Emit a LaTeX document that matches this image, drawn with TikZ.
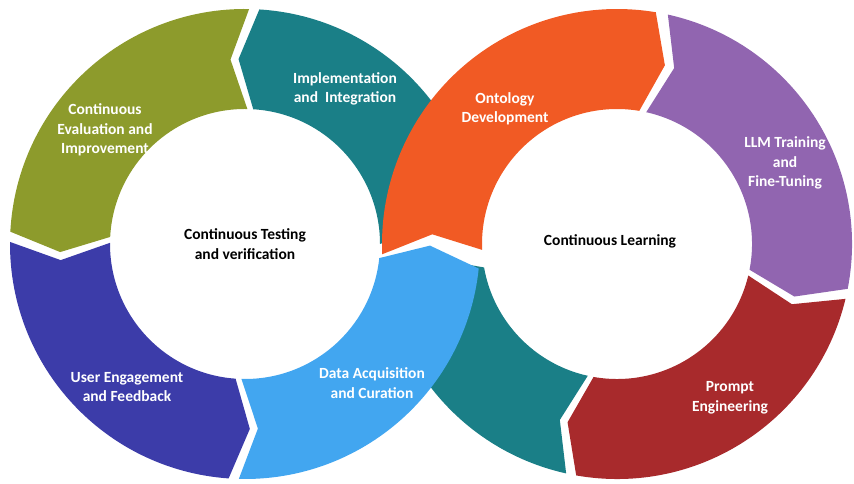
\documentclass[tikz,border=0pt]{standalone}
\usepackage{fontspec}
\setmainfont{Carlito}
\usetikzlibrary{calc}

\definecolor{olivec}{HTML}{8D9B2C}
\definecolor{tealc}{HTML}{1A7F87}
\definecolor{navyc}{HTML}{3C3CA9}
\definecolor{skyc}{HTML}{42A6F0}
\definecolor{orangec}{HTML}{F15A24}
\definecolor{purplec}{HTML}{9165B0}
\definecolor{redc}{HTML}{A82A2C}

% one arrow piece of a ring: centre, from angle, to angle, tip shift, colour
\newcommand{\ringpart}[5]{%
  \fill[#5] ($(#1)+(#2:235pt)$) arc[start angle=#2, end angle=#3, radius=235pt]
    -- ($(#1)+(#3+#4:185pt)$) -- ($(#1)+(#3:135pt)$)
    arc[start angle=#3, end angle=#2, radius=135pt]
    -- ($(#1)+(#2+#4:185pt)$) -- cycle;}

\begin{document}
\begin{tikzpicture}[x=1pt, y=1pt,
    lbl/.style={text=white, font=\fontsize{15.5}{19.5}\selectfont\bfseries, align=center},
    ctr/.style={text=black, font=\fontsize{15.5}{19.5}\selectfont\bfseries, align=center}]
    \useasboundingbox (0,0) rectangle (854,484);
    \coordinate (L) at (245,240);
    \coordinate (R) at (617,240);
    % the two teal pieces go under the others
    \ringpart{L}{0}{86.5}{5.5}{tealc}
    \ringpart{R}{257.5}{190}{-5.5}{tealc}
    % left ring, counter clockwise
    \ringpart{L}{89}{177}{5.5}{olivec}
    \ringpart{L}{179.5}{266}{5.5}{navyc}
    \ringpart{L}{268.5}{354}{5.5}{skyc}
    % right ring, clockwise
    \ringpart{R}{182.5}{80.5}{-5.5}{orangec}
    \ringpart{R}{77.5}{-11}{-5.5}{purplec}
    \ringpart{R}{-13.5}{-100}{-5.5}{redc}

    \node[lbl] (eval) at (105,354) {Continuous\\Evaluation and\\Improvement};
    \node[lbl] (impl) at (345,395) {Implementation\\and~~Integration};
    \node[lbl] (user) at (127,97) {User Engagement\\and Feedback};
    \node[lbl] (data) at (372,101) {Data Acquisition\\and Curation};
    \node[lbl] (onto) at (505,375) {Ontology\\Development};
    \node[lbl] (llm) at (785,321) {LLM Training\\and\\Fine-Tuning};
    \node[lbl] (prompt) at (730,86) {Prompt\\Engineering};
    \node[ctr] (testing) at (245,240) {Continuous Testing\\and verification};
    \node[ctr] (learning) at (610,243) {Continuous Learning};
\end{tikzpicture}
\end{document}
